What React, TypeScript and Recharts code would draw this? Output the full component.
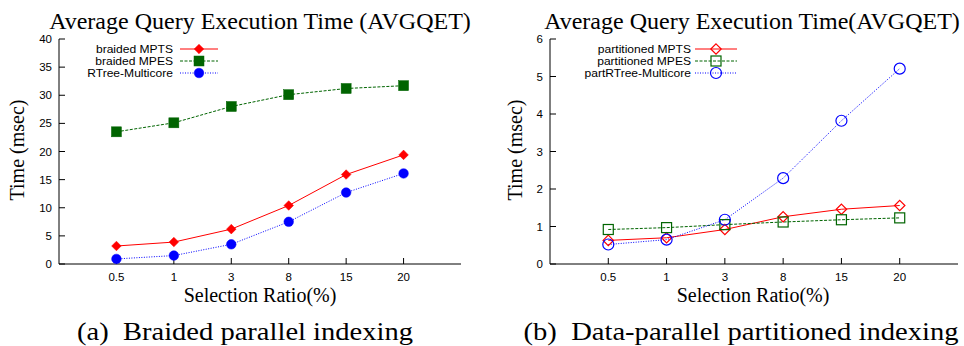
import { LineChart, Line, XAxis, YAxis, Legend } from 'recharts'

const ratioLabels = ['0.5', '1', '3', '8', '15', '20']

// (a) braided parallel indexing, msec
const braidedMPTS = [3.2, 3.9, 6.2, 10.4, 15.9, 19.4]
const braidedMPES = [23.5, 25.1, 28.0, 30.1, 31.2, 31.7]
const rtreeMulticore = [0.9, 1.5, 3.5, 7.5, 12.7, 16.1]

// (b) data-parallel partitioned indexing, msec
const partitionedMPTS = [0.63, 0.7, 0.92, 1.26, 1.46, 1.56]
const partitionedMPES = [0.92, 0.97, 1.05, 1.12, 1.18, 1.23]
const partRTreeMulticore = [0.52, 0.65, 1.18, 2.29, 3.82, 5.21]

const braidedTicks = [0, 5, 10, 15, 20, 25, 30, 35, 40]
const partitionedTicks = [0, 1, 2, 3, 4, 5, 6]

const SANS = '"Liberation Sans", Arial, Helvetica, sans-serif'
const SERIF = '"Liberation Serif", "Times New Roman", Times, serif'

type MarkerKind = 'diamond' | 'square' | 'circle'

interface SeriesDef {
  key: 'a' | 'b' | 'c'
  name: string
  color: string
  dash?: string
  marker: MarkerKind
  filled: boolean
  size: number
}

const xTicks = ratioLabels.map((_, i) => i)

function buildRows(a: number[], b: number[], c: number[]) {
  return ratioLabels.map((label, i) => ({ x: i, label, a: a[i], b: b[i], c: c[i] }))
}

function Marker({ kind, filled, color, cx, cy, size }: { kind: MarkerKind; filled: boolean; color: string; cx: number; cy: number; size: number }) {
  const fill = filled ? color : 'none'
  const sw = filled ? 0.5 : 1.2
  if (kind === 'diamond') {
    return <path d={`M${cx},${cy - size}L${cx + size},${cy}L${cx},${cy + size}L${cx - size},${cy}Z`} fill={fill} stroke={color} strokeWidth={sw} />
  }
  if (kind === 'square') {
    return <rect x={cx - size} y={cy - size} width={size * 2} height={size * 2} fill={fill} stroke={color} strokeWidth={sw} />
  }
  return <circle cx={cx} cy={cy} r={size} fill={fill} stroke={color} strokeWidth={sw} />
}

interface LegendGeom {
  textRight: number
  lineFrom: number
  lineTo: number
  rows: number[]
}

function LegendBox({ payload, series, geom }: { payload?: any[]; series: SeriesDef[]; geom: LegendGeom }) {
  // keep the plotting order, whatever order the payload arrives in
  const keys = (payload ?? []).map((p) => p.dataKey)
  const entries = series.filter((s) => keys.includes(s.key))
  const mid = (geom.lineFrom + geom.lineTo) / 2
  return (
    <svg width={300} height={90} style={{ display: 'block' }}>
      {entries.map((s, i) => (
        <g key={s.key}>
          <text
            transform={`translate(${geom.textRight} ${geom.rows[i] + 3.8}) scale(1.15 1)`}
            textAnchor="end"
            fontFamily={SANS}
            fontSize={10.5}
            fill="#000"
          >
            {s.name}
          </text>
          <line x1={geom.lineFrom} x2={geom.lineTo} y1={geom.rows[i]} y2={geom.rows[i]} stroke={s.color} strokeDasharray={s.dash} strokeWidth={1} />
          <Marker kind={s.marker} filled={s.filled} color={s.color} cx={mid} cy={geom.rows[i]} size={s.size} />
        </g>
      ))}
    </svg>
  )
}

interface PanelProps {
  left: number
  rows: ReturnType<typeof buildRows>
  series: SeriesDef[]
  yMax: number
  yTicks: number[]
  yAxisWidth: number
  rightMargin: number
  legend: LegendGeom
  title: string
  titleX: number
  yLabelX: number
  xLabelX: number
  caption: string
  captionX: number
  captionWidth: number
}

function Panel(p: PanelProps) {
  const tickStyle = { fill: '#000', fontSize: 11.5, fontFamily: SANS }
  return (
    <div style={{ position: 'absolute', left: p.left, top: 0, width: 480, height: 346 }}>
      <LineChart width={480} height={346} data={p.rows} margin={{ top: 39, right: p.rightMargin, bottom: 52, left: 0 }}>
        <XAxis
          dataKey="x"
          type="number"
          domain={[-1, 6]}
          ticks={xTicks}
          interval={0}
          tickFormatter={(v: number) => ratioLabels[v] ?? ''}
          tickSize={-6}
          tickMargin={15}
          height={30}
          stroke="#000"
          tick={tickStyle}
        />
        <XAxis xAxisId="top" orientation="top" dataKey="x" type="number" domain={[-1, 6]} ticks={xTicks} interval={0} tick={false} tickSize={-6} height={0} stroke="#000" />
        <YAxis type="number" domain={[0, p.yMax]} ticks={p.yTicks} interval={0} tickSize={-6} tickMargin={13} width={p.yAxisWidth} stroke="#000" tick={tickStyle} />
        <YAxis yAxisId="right" orientation="right" type="number" domain={[0, p.yMax]} ticks={p.yTicks} interval={0} tick={false} tickSize={-6} width={0} stroke="#000" />
        <Legend
          layout="vertical"
          align="center"
          verticalAlign="middle"
          wrapperStyle={{ left: 0, top: 0, width: 300, height: 90 }}
          content={(props: any) => <LegendBox payload={props.payload} series={p.series} geom={p.legend} />}
        />
        {p.series.map((s) => (
          <Line
            key={s.key}
            dataKey={s.key}
            name={s.name}
            stroke={s.color}
            strokeWidth={1}
            strokeDasharray={s.dash}
            dot={(d: any) => <Marker key={`${s.key}-${d.index}`} kind={s.marker} filled={s.filled} color={s.color} cx={d.cx} cy={d.cy} size={s.size} />}
            activeDot={false}
            isAnimationActive={false}
          />
        ))}
      </LineChart>
      <svg width={480} height={346} style={{ position: 'absolute', left: 0, top: 0, pointerEvents: 'none' }}>
        <text x={p.titleX} y={29} textAnchor="middle" fontFamily={SERIF} fontSize={24} fill="#000">
          {p.title}
        </text>
        <text x={p.yLabelX} y={150} transform={`rotate(-90 ${p.yLabelX} 150)`} textAnchor="middle" fontFamily={SERIF} fontSize={20} fill="#000">
          Time (msec)
        </text>
        <text x={p.xLabelX} y={302} textAnchor="middle" fontFamily={SERIF} fontSize={20} fill="#000">
          Selection Ratio(%)
        </text>
        <text
          x={p.captionX}
          y={340}
          textAnchor="middle"
          fontFamily={SERIF}
          fontSize={25.5}
          fill="#000"
          textLength={p.captionWidth}
          lengthAdjust="spacingAndGlyphs"
        >
          {p.caption}
        </text>
      </svg>
    </div>
  )
}

const braidedSeries: SeriesDef[] = [
  { key: 'a', name: 'braided MPTS', color: '#ff0000', marker: 'diamond', filled: true, size: 4.8 },
  { key: 'b', name: 'braided MPES', color: '#006400', dash: '3 1.5', marker: 'square', filled: true, size: 5 },
  { key: 'c', name: 'RTree-Multicore', color: '#0000ff', dash: '1 1.5', marker: 'circle', filled: true, size: 4.8 },
]

const partitionedSeries: SeriesDef[] = [
  { key: 'a', name: 'partitioned MPTS', color: '#ff0000', marker: 'diamond', filled: false, size: 5.2 },
  { key: 'b', name: 'partitioned MPES', color: '#006400', dash: '3 1.5', marker: 'square', filled: false, size: 5 },
  { key: 'c', name: 'partRTree-Multicore', color: '#0000ff', dash: '1 1.5', marker: 'circle', filled: false, size: 5.5 },
]

export default function App() {
  return (
    <div style={{ position: 'absolute', left: 0, top: 0, width: 964, height: 346, background: '#fff' }}>
      <Panel
        left={0}
        rows={buildRows(braidedMPTS, braidedMPES, rtreeMulticore)}
        series={braidedSeries}
        yMax={40}
        yTicks={braidedTicks}
        yAxisWidth={59}
        rightMargin={19}
        legend={{ textRight: 173, lineFrom: 180, lineTo: 218, rows: [49, 61, 73] }}
        title="Average Query Execution Time (AVGQET)"
        titleX={260}
        yLabelX={24}
        xLabelX={260}
        caption={'(a)\u2002Braided parallel indexing'}
        captionX={245}
        captionWidth={336}
      />
      <Panel
        left={484}
        rows={buildRows(partitionedMPTS, partitionedMPES, partRTreeMulticore)}
        series={partitionedSeries}
        yMax={6}
        yTicks={partitionedTicks}
        yAxisWidth={66}
        rightMargin={6}
        legend={{ textRight: 207, lineFrom: 211, lineTo: 253, rows: [49, 61, 73] }}
        title="Average Query Execution Time(AVGQET)"
        titleX={268}
        yLabelX={38}
        xLabelX={269}
        caption={'(b)\u2002Data-parallel partitioned indexing'}
        captionX={257}
        captionWidth={435}
      />
    </div>
  )
}
